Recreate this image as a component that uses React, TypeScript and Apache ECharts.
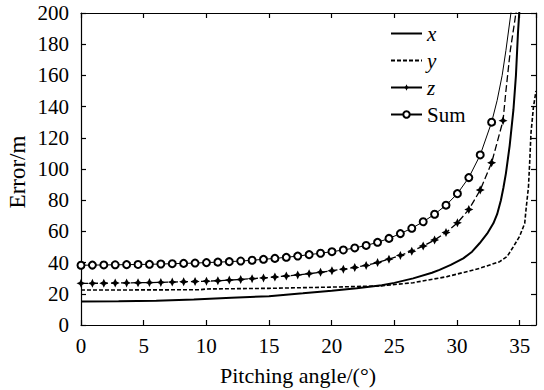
import React, { useEffect, useRef } from "react";
import * as echarts from "echarts";

// Pitching angle (deg) and error (m)
const sumAngles = [0, 0.91, 1.82, 2.73, 3.64, 4.55, 5.46, 6.37, 7.28, 8.19, 9.1, 10.01, 10.92, 11.83, 12.74, 13.65, 14.56, 15.47, 16.38, 17.29, 18.2, 19.11, 20.02, 20.93, 21.84, 22.75, 23.66, 24.57, 25.48, 26.39, 27.3, 28.21, 29.12, 30.03, 30.94, 31.85, 32.76, 33.2, 33.6, 33.9, 34.3, 34.6];
const sumValues = [38.3, 38.4, 38.5, 38.6, 38.7, 38.8, 38.9, 39.1, 39.3, 39.5, 39.7, 40.0, 40.3, 40.6, 41.0, 41.5, 42.1, 42.7, 43.4, 44.2, 45.1, 46.0, 47.0, 48.1, 49.4, 51.0, 53.0, 55.5, 58.6, 62.0, 66.2, 71.0, 76.8, 84.2, 94.5, 109, 130, 144, 160, 176, 200, 222];
const sumMarked = 37;

const zAngles = [0, 0.91, 1.82, 2.73, 3.64, 4.55, 5.46, 6.37, 7.28, 8.19, 9.1, 10.01, 10.92, 11.83, 12.74, 13.65, 14.56, 15.47, 16.38, 17.29, 18.2, 19.11, 20.02, 20.93, 21.84, 22.75, 23.66, 24.57, 25.48, 26.39, 27.3, 28.21, 29.12, 30.03, 30.94, 31.85, 32.76, 33.67, 33.9, 34.25, 34.7, 35.0];
const zValues = [26.7, 26.7, 26.8, 26.9, 27.0, 27.1, 27.2, 27.3, 27.5, 27.7, 27.9, 28.1, 28.4, 28.8, 29.2, 29.7, 30.2, 30.8, 31.4, 32.1, 32.9, 33.8, 34.8, 35.8, 36.9, 38.2, 40.0, 42.2, 44.6, 47.3, 50.6, 54.5, 59.3, 65.5, 74, 86.5, 104, 131, 150, 176, 200, 220];
const zMarked = 38;

const xAngles = [0, 3, 6, 9, 12, 15, 17.7, 20, 22, 24, 25, 26.5, 28, 28.6, 29.5, 30.5, 31.2, 31.8, 32.4, 32.9, 33.2, 33.5, 33.7, 33.9, 34.2, 34.5, 34.7, 34.86, 35.0, 35.1];
const xValues = [15.0, 15.2, 15.6, 16.4, 17.5, 18.5, 20.3, 22.0, 23.6, 25.5, 27.0, 29.9, 33.5, 35.3, 38.5, 42.7, 47, 52.4, 58.5, 65.2, 71, 80, 88, 97.2, 115, 138, 160, 187, 205, 220];

const yAngles = [0, 5, 9.5, 10, 15, 20, 23.8, 26.5, 29.2, 31.8, 33.4, 34.0, 34.5, 35.0, 35.4, 35.5, 35.7, 35.8, 35.9, 36.1, 36.3];
const yValues = [22.4, 22.5, 22.6, 23.1, 23.5, 24.3, 25, 27.1, 31, 36.3, 40.6, 44, 50.2, 57, 65.2, 73.7, 88.6, 105, 123, 140, 150];

const seriesNames = ["x", "y", "z", "Sum"];
const xTickLabels = ["0", "5", "10", "15", "20", "25", "30", "35"];

const FONT = "'Liberation Serif', 'Times New Roman', serif";

const pairs = (a: number[], v: number[]) => a.map((x, i) => [x, v[i]]);
const marked = (a: number[], v: number[], n: number) =>
  a.map((x, i) => (i < n ? { value: [x, v[i]] } : { value: [x, v[i]], symbol: "none" }));

const starPath =
  "path://M0,-10 L3.2,-3.2 L10,0 L3.2,3.2 L0,10 L-3.2,3.2 L-10,0 L-3.2,-3.2 Z";

export default function App() {
  const ref = useRef<HTMLDivElement>(null);
  useEffect(() => {
    document.body.style.margin = "0";
    const chart = echarts.init(ref.current!, null, { renderer: "svg" });
    const axisCommon = {
      type: "value" as const,
      axisLine: { show: true, onZero: false, lineStyle: { color: "#000", width: 1.2 } },
      axisTick: { show: true, inside: true, length: 5, lineStyle: { color: "#000", width: 1.2 } },
      splitLine: { show: false },
    };
    chart.setOption({
      animation: false,
      backgroundColor: "#fff",
      grid: { left: 81, right: 8, top: 13, bottom: 65, containLabel: false },
      xAxis: [
        {
          ...axisCommon,
          min: 0,
          max: 36.3,
          interval: 5,
          position: "bottom",
          axisLabel: {
            margin: 10,
            fontFamily: FONT,
            fontSize: 21,
            color: "#000",
            showMaxLabel: false,
            formatter: (v: number) => (xTickLabels.includes(String(v)) ? String(v) : ""),
          },
        },
        {
          ...axisCommon,
          min: 0,
          max: 36.3,
          interval: 5,
          position: "top",
          axisLabel: { show: false },
        },
      ],
      yAxis: [
        {
          ...axisCommon,
          min: 0,
          max: 200,
          interval: 20,
          position: "left",
          axisLabel: { margin: 12, fontFamily: FONT, fontSize: 21, color: "#000" },
        },
        {
          ...axisCommon,
          min: 0,
          max: 200,
          interval: 20,
          position: "right",
          axisLabel: { show: false },
        },
      ],
      legend: {
        orient: "vertical",
        left: 390,
        top: 23,
        padding: 0,
        itemWidth: 31,
        itemHeight: 8,
        itemGap: 6,
        data: [
          { name: "x", itemStyle: { opacity: 0 } },
          { name: "y", itemStyle: { opacity: 0 } },
          { name: "z", lineStyle: { type: "solid" } },
          { name: "Sum" },
        ],
        textStyle: {
          fontFamily: FONT,
          fontSize: 21,
          color: "#000",
          rich: { i: { fontFamily: FONT, fontSize: 21, fontStyle: "italic", color: "#000" } },
        },
        formatter: (name: string) => (name === "Sum" ? name : `{i|${name}}`),
      },
      graphic: [
        {
          type: "text",
          x: 17,
          y: 172,
          rotation: Math.PI / 2,
          style: {
            text: "Error/m",
            fontFamily: FONT,
            fontSize: 23,
            fill: "#000",
            textAlign: "center",
            textVerticalAlign: "middle",
          },
        },
        {
          type: "text",
          x: 298,
          y: 375,
          style: {
            text: "Pitching angle/(°)",
            fontFamily: FONT,
            fontSize: 22,
            fill: "#000",
            textAlign: "center",
            textVerticalAlign: "middle",
          },
        },
      ],
      series: [
        {
          name: seriesNames[0],
          type: "line",
          symbol: "none",
          data: pairs(xAngles, xValues),
          lineStyle: { color: "#000", width: 2 },
          itemStyle: { color: "#000" },
        },
        {
          name: seriesNames[1],
          type: "line",
          symbol: "none",
          data: pairs(yAngles, yValues),
          lineStyle: { color: "#000", width: 1.6, type: [4, 2] },
          itemStyle: { color: "#000" },
        },
        {
          name: seriesNames[2],
          type: "line",
          symbol: starPath,
          symbolSize: 9,
          showAllSymbol: true,
          data: marked(zAngles, zValues, zMarked),
          lineStyle: { color: "#000", width: 1.3, type: [7, 3] },
          itemStyle: { color: "#000" },
        },
        {
          name: seriesNames[3],
          type: "line",
          symbol: "emptyCircle",
          symbolSize: 7,
          showAllSymbol: true,
          data: marked(sumAngles, sumValues, sumMarked),
          lineStyle: { color: "#000", width: 1 },
          itemStyle: { color: "#000", borderColor: "#000", borderWidth: 1 },
        },
      ],
    });
    return () => chart.dispose();
  }, []);
  return (
    <div
      ref={ref}
      style={{ position: "fixed", left: 0, top: 0, width: 544, height: 390 }}
    />
  );
}
